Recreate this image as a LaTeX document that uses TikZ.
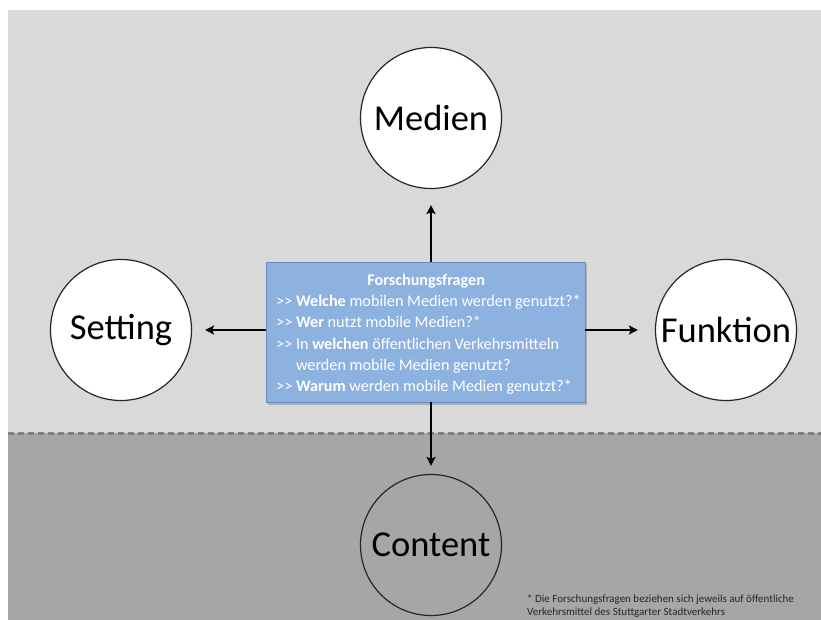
\documentclass[tikz,border=0pt]{standalone}
\usepackage{fontspec}
\setmainfont{Carlito}
\usetikzlibrary{arrows.meta,shadows}
\definecolor{bglight}{HTML}{D9D9D9}
\definecolor{bgdark}{HTML}{A6A6A6}
\definecolor{dashgray}{HTML}{7F7F7F}
\definecolor{boxfill}{RGB}{142,178,224}
\definecolor{boxdraw}{RGB}{105,140,195}
\definecolor{notetext}{HTML}{262626}
\tikzset{
  topic/.style={circle, draw=black!85, line width=1.2pt, minimum size=141pt, inner sep=0pt, font=\fontsize{36.5}{40}\selectfont},
  conn/.style={-{Stealth[length=9pt,width=9pt,inset=2pt]}, line width=2pt, black},
  qbox/.style={rectangle, draw=boxdraw, line width=0.8pt, fill=boxfill, text=white,
    minimum width=319pt, minimum height=140pt, inner sep=0pt,
    drop shadow={shadow xshift=2pt, shadow yshift=-3pt, opacity=0.45}},
}
\begin{document}
\begin{tikzpicture}[x=1pt,y=1pt]
\useasboundingbox (0,0) rectangle (821,-620);
% backgrounds
\fill[bglight] (8,-10) rectangle (821,-433);
\fill[bgdark] (8,-433) rectangle (821,-620);
\draw[dashgray, line width=3pt, dash pattern=on 6pt off 4pt] (8,-433) -- (821,-433);
% circles
\node[topic, fill=white] (medien) at (431,-118) {Medien};
\node[topic, fill=white] (setting) at (121,-330) {Setting};
\node[topic, fill=white] (funktion) at (726,-330) {Funktion};
\node[topic] (content) at (431,-545) {Content};
% box
\node[qbox] (box) at (425.5,-332) {};
\node[anchor=north west, text=white, align=left, inner sep=0pt,
  font=\fontsize{16.2}{21.2}\selectfont] (qtext) at (276,-274) {%
\makebox[300pt]{\textbf{Forschungsfragen}}\\
>{}> \textbf{Welche} mobilen Medien werden genutzt?*\\
>{}> \textbf{Wer} nutzt mobile Medien?*\\
>{}> In \textbf{welchen} öffentlichen Verkehrsmitteln\\
\phantom{>{}> }werden mobile Medien genutzt?\\
>{}> \textbf{Warum} werden mobile Medien genutzt?*};
% connectors
\draw[conn, shorten >=16pt] (box.north -| medien.south) -- (medien.south);
\draw[conn, shorten >=13pt] (box.west |- setting.east) -- (setting.east);
\draw[conn, shorten >=17pt] (box.east |- funktion.west) -- (funktion.west);
\draw[conn, shorten >=8pt] (box.south -| content.north) -- (content.north);
% footnote
\node[anchor=north west, align=left, inner sep=0pt, text=notetext,
  font=\fontsize{11}{13}\selectfont] (note) at (527,-594) {%
* Die Forschungsfragen beziehen sich jeweils auf öffentliche\\
Verkehrsmittel des Stuttgarter Stadtverkehrs};
\end{tikzpicture}
\end{document}
